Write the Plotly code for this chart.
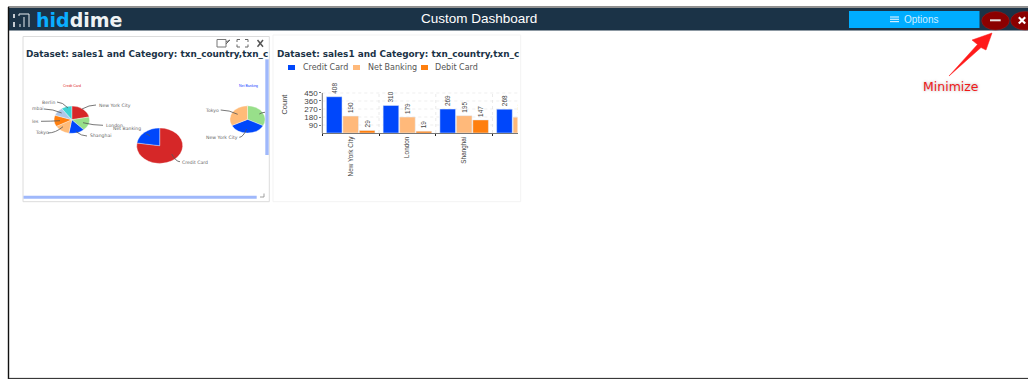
import plotly.graph_objects as go

W, H = 1028, 379

# Grouped bar panel data
CATEGORIES = ["New York City", "London", "Shanghai", "Tokyo"]
CREDIT_CARD = [408, 310, 269, 268]
NET_BANKING = [190, 179, 195, 178]
DEBIT_CARD = [29, 19, 147, None]
SERIES_NAMES = ["Credit Card", "Net Banking", "Debit Card"]
SERIES_COLORS = ["#0047fb", "#ffb97a", "#ff7f0e"]
Y_TICKS = [90, 180, 270, 360, 450]

# Pie panel data
CREDIT_CITIES = ["New York City", "London", "Shanghai", "Tokyo", "Los Angeles", "Mumbai", "Berlin"]
CREDIT_VALUES = [408, 310, 269, 268, 250, 190, 180]
CREDIT_COLORS = ["#d62728", "#98df8a", "#0047fb", "#ffbb78", "#ff7f0e", "#aec7e8", "#3ed3d3"]
NET_CITIES = ["London", "New York City", "Tokyo"]
NET_VALUES = [179, 190, 178]
NET_COLORS = ["#98df8a", "#0047fb", "#ffbb78"]
PAYMENT_TYPES = ["Credit Card", "Net Banking"]
PAYMENT_VALUES = [1875, 547]
PAYMENT_COLORS = ["#d62728", "#0047fb"]

TITLE = "Dataset: sales1 and Category: txn_country,txn_c"
NAVY = "#1b3347"
SCROLL = "#9fb8fb"
MONO = "DejaVu Sans"
ARIAL = "Liberation Sans"


def fx(x):
    return x / W


def fy(y):
    return 1 - y / H


shapes, notes = [], []


def rect(x0, y0, x1, y1, fill="rgba(0,0,0,0)", line=None, width=1):
    shapes.append(dict(type="rect", xref="paper", yref="paper", x0=fx(x0), x1=fx(x1), y0=fy(y0), y1=fy(y1),
                       fillcolor=fill, line=dict(color=line or "rgba(0,0,0,0)", width=width if line else 0),
                       layer="above"))


def ellipse(x0, y0, x1, y1, fill):
    shapes.append(dict(type="circle", xref="paper", yref="paper", x0=fx(x0), x1=fx(x1), y0=fy(y0), y1=fy(y1),
                       fillcolor=fill, line=dict(color="#a31a1a", width=0.5), layer="above"))


def seg(x0, y0, x1, y1, color, width=1):
    shapes.append(dict(type="line", xref="paper", yref="paper", x0=fx(x0), x1=fx(x1), y0=fy(y0), y1=fy(y1),
                       line=dict(color=color, width=width), layer="above"))


def curve(x0, y0, x1, y1, color="#555555", width=0.8):
    # Leader line bending towards its label
    mx, my = (x0 + x1) / 2, y1
    path = f"M{fx(x0)},{fy(y0)} Q{fx(mx)},{fy(my)} {fx(x1)},{fy(y1)}"
    shapes.append(dict(type="path", xref="paper", yref="paper", path=path,
                       line=dict(color=color, width=width), layer="above"))


def label(x, y, text, size, color="#666666", family=ARIAL, anchor="left", **font_extra):
    notes.append(dict(xref="paper", yref="paper", x=fx(x), y=fy(y), text=text, showarrow=False,
                      xanchor=anchor, yanchor="middle", borderpad=0,
                      font=dict(size=size, color=color, family=family, **font_extra)))


def pie_domain(cx, cy, rx):
    return dict(x=[fx(cx - rx), fx(cx + rx)], y=[fy(cy + rx), fy(cy - rx)])


def pie(labels, values, colors, cx, cy, rx):
    return go.Pie(labels=labels, values=values, sort=False, direction="clockwise", rotation=0,
                  marker=dict(colors=colors, line=dict(color="#ffffff", width=0.4)),
                  textinfo="none", showlegend=False, domain=pie_domain(cx, cy, rx))


fig = go.Figure()

# Pie charts
fig.add_trace(pie(CREDIT_CITIES, CREDIT_VALUES, CREDIT_COLORS, 71.8, 119.7, 17.7))
fig.add_trace(pie(PAYMENT_TYPES, PAYMENT_VALUES, PAYMENT_COLORS, 159.7, 145.7, 23))
fig.add_trace(pie(NET_CITIES, NET_VALUES, NET_COLORS, 247.5, 119.4, 17.6))

# Grouped bars
for name, vals, color in zip(SERIES_NAMES, [CREDIT_CARD, NET_BANKING, DEBIT_CARD], SERIES_COLORS):
    fig.add_trace(go.Bar(x=CATEGORIES, y=vals, name=name, marker=dict(color=color),
                         text=vals, textposition="outside", textangle=-90, constraintext="none",
                         cliponaxis=True, textfont=dict(size=6.4, color="#444444", family=ARIAL),
                         showlegend=False))

# Dotted guides stop at the top tick, so they are tied to the data scales
for tick in Y_TICKS:
    shapes.append(dict(type="line", xref="x domain", yref="y", x0=0, x1=1, y0=tick, y1=tick,
                       line=dict(color="#e4e4e4", width=0.6, dash="dot"), layer="below"))
for i in range(len(CATEGORIES) - 1):
    shapes.append(dict(type="line", xref="x", yref="y", x0=i + 0.5, x1=i + 0.5, y0=0, y1=Y_TICKS[-1],
                       line=dict(color="#dddddd", width=0.6, dash="dot"), layer="below"))
shapes.append(dict(type="line", xref="x domain", yref="y", x0=0, x1=0, y0=0, y1=Y_TICKS[-1],
                   line=dict(color="#777777", width=1), layer="above"))

# Hides the rotated label that runs past the panel edge
rect(518.5, 134, 526, 185, fill="#ffffff")

# Window frame and header
rect(9, 8, 1028, 30.5, fill=NAVY)
seg(8, 7, 1028, 7, "#222222", 1.2)
seg(8.5, 7, 8.5, 379, "#111111", 1.4)
seg(8, 378.4, 1028, 378.4, "#222222", 1)

# Logo mark
seg(14, 14, 14, 18, "#ffffff", 1.5)
seg(14, 22, 14, 27, "#ffffff", 1.5)
for px0, py0, px1, py1 in [(19, 14, 29, 14), (19, 14, 19, 16), (29, 14, 29, 27), (24, 17, 24, 27), (20, 27, 20, 24)]:
    seg(px0, py0, px1, py1, "#e8eef2", 1)
label(35, 20, "<b><span style='color:#0aaeff'>hid</span>dime</b>", 19, "#eef2f4", MONO)
label(479, 18.5, "Custom Dashboard", 13.5, "#ffffff", ARIAL, "center")

# Options button and window controls
rect(849, 11, 979.5, 28, fill="#00adff")
for ly in (17, 19.3, 21.6):
    seg(890, ly, 899, ly, "#cfeeff", 1.2)
label(902.5, 19.5, "Options", 10, "#cfeeff", ARIAL)
ellipse(981.7, 11.5, 1009.3, 30, "#8b0000")
seg(990, 20.3, 1000.7, 20.3, "#e8e0e0", 2)
ellipse(1010.7, 11.5, 1040, 30, "#8b0000")
seg(1018.8, 17.3, 1025.2, 23.5, "#ffffff", 2.2)
seg(1025.2, 17.3, 1018.8, 23.5, "#ffffff", 2.2)

# Callout arrow and caption
arrow = [(992, 33), (972, 40), (977.5, 44.5), (949, 76), (981, 47.5), (986, 50)]
arrow_path = "M" + " L".join(f"{fx(a)},{fy(b)}" for a, b in arrow) + " Z"
shapes.append(dict(type="path", xref="paper", yref="paper", path=arrow_path, fillcolor="#ff1a1a",
                   line=dict(color="#ff1a1a", width=0.5), layer="above"))
label(950.5, 86.5, "Minimize", 12.5, "#f01818", MONO, "center", shadow="0 0 3px #aaaaaa")

# Left panel frame, toolbar and scrollbars
rect(23, 36.5, 269.3, 201.7, line="#dcdcdc", width=1)
rect(265.3, 59.3, 268.7, 155, fill=SCROLL)
rect(23.5, 195.7, 256.7, 198.7, fill=SCROLL)
seg(264, 193.5, 264, 197, "#888888", 0.8)
seg(260, 197, 264, 197, "#888888", 0.8)
rect(217, 39.5, 226, 47, line="#777777", width=1)
for a, b, c, d in [(226, 42, 230, 40), (226, 44, 230, 40),
                   (237, 39.5, 240, 39.5), (237, 39.5, 237, 42), (245, 39.5, 248, 39.5), (248, 39.5, 248, 42),
                   (237, 47, 240, 47), (237, 44.5, 237, 47), (245, 47, 248, 47), (248, 44.5, 248, 47)]:
    seg(a, b, c, d, "#666666", 1)
seg(257.5, 40, 263, 46.8, "#555555", 1.5)
seg(263, 40, 257.5, 46.8, "#555555", 1.5)
label(25, 53.5, f"<b>{TITLE}</b>", 8.9, NAVY, MONO)
label(72, 86, "Credit Card", 3.5, "#e02020", ARIAL, "center")
label(248, 86, "Net Banking", 3.5, "#2040ff", ARIAL, "center")

# Pie labels with their leader lines
for x, y, txt in [(98, 105, "New York City"), (105, 125, "London"), (112, 128.5, "Net Banking"),
                  (89, 136, "Shanghai"), (34, 133, "Tokyo"), (31, 121.3, "les"), (31, 109, "mbai"),
                  (41, 102, "Berlin"), (181, 162, "Credit Card"), (204, 110, "Tokyo"),
                  (205, 137, "New York City")]:
    label(x, y, txt, 4.6, "#666666", MONO)
for a in [(82, 109, 96, 105), (83, 122.7, 103, 125.3), (76, 131.7, 87, 136), (63, 126.7, 48, 133),
          (60, 120.7, 41, 121.3), (61.7, 113, 44, 109), (68, 108, 57, 102), (171.7, 154, 180, 161.7),
          (150, 136, 146, 134), (237.7, 114.3, 220.7, 110), (246.7, 129, 239.3, 137.3), (259.3, 114, 265, 112.3)]:
    curve(*a)

# Right panel frame, title and key
rect(273, 35, 520.7, 201.7, line="#f3f3f3", width=1)
label(276, 53.5, f"<b>{TITLE}</b>", 8.9, NAVY, MONO)
for kx, tx, name, color in zip([288, 353, 421], [302, 367, 434], SERIES_NAMES, SERIES_COLORS):
    rect(kx, 65, kx + 7, 70, fill=color)
    label(tx, 67.5, name, 8, "#555555", MONO)

plot_left, plot_right, plot_top, plot_bottom = 322.3, 517.5, 76.1, 133

fig.update_layout(
    width=W, height=H, margin=dict(l=0, r=0, t=0, b=0),
    paper_bgcolor="#ffffff", plot_bgcolor="#ffffff",
    barmode="group", bargap=0.13, bargroupgap=0.05,
    showlegend=False, shapes=shapes, annotations=notes,
    xaxis=dict(domain=[fx(plot_left), fx(plot_right)], range=[-0.5, 2.94], type="category",
               categoryorder="array", categoryarray=CATEGORIES, tickson="boundaries", ticks="outside",
               ticklen=2, tickcolor="#222222", tickangle=-90, showgrid=False, showline=True,
               linecolor="#777777", linewidth=1.2, tickfont=dict(size=6.4, color="#444444", family=ARIAL)),
    yaxis=dict(domain=[fy(plot_bottom), fy(plot_top)], range=[0, 640], tickvals=Y_TICKS, ticks="outside",
               ticklen=2, tickcolor="#777777", showgrid=False, zeroline=False, showline=False,
               tickfont=dict(size=8, color="#444444", family=ARIAL),
               title=dict(text="Count", font=dict(size=7.5, color="#444444", family=ARIAL), standoff=15)),
)

# The pies are flattened vertically, as in a horizontally stretched dashboard
squash = """
document.querySelectorAll('.pielayer .trace').forEach(function (g) {
  var b = g.getBBox(), cy = b.y + b.height / 2;
  g.setAttribute('transform', 'translate(0,' + cy + ') scale(1,0.77) translate(0,' + (-cy) + ')');
});
"""
fig.write_html("out.html", post_script=squash, config=dict(displayModeBar=False))
